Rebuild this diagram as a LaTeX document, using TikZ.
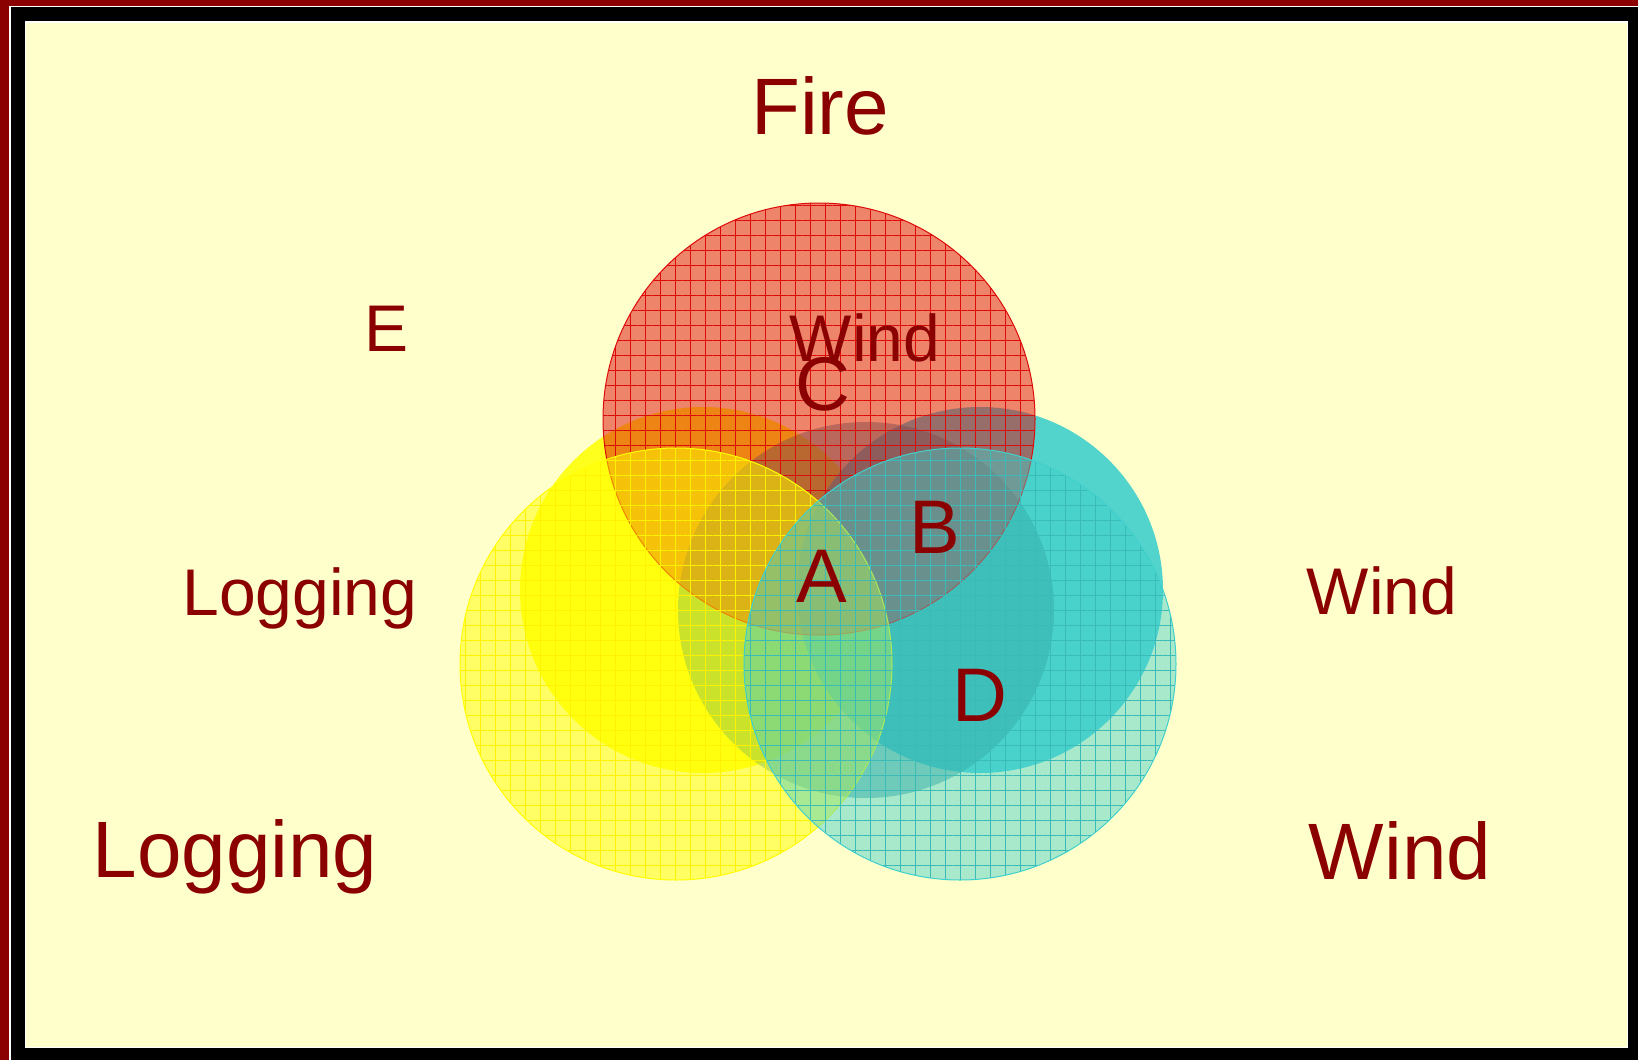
\documentclass[tikz,border=0pt]{standalone}
\usepackage{fontspec}
\setmainfont{Liberation Sans}
\usepackage{tikz}
\usetikzlibrary{patterns.meta}
\definecolor{framered}{RGB}{139,0,0}
\definecolor{paper}{RGB}{255,255,204}
\definecolor{labelred}{RGB}{139,0,0}
\definecolor{firered}{RGB}{222,10,10}
\definecolor{logyellow}{RGB}{255,255,0}
\definecolor{windcyan}{RGB}{64,208,204}

\begin{document}
\begin{tikzpicture}[x=0.5pt, y=-0.5pt,
  gridded/.style={pattern={Hatch[angle=0, distance=7.5pt, line width=0.35pt]}, pattern color=#1},
  bigtext/.style={font=\fontsize{40}{48}\selectfont, text=labelred, anchor=base, inner sep=0pt},
  midtext/.style={font=\fontsize{33}{40}\selectfont, text=labelred, anchor=base, inner sep=0pt},
  lettertext/.style={font=\fontsize{38}{46}\selectfont, text=labelred, anchor=base, inner sep=0pt}]
  \useasboundingbox (0,0) rectangle (1638,1060);
  % Frame
  \fill[framered] (0,0) rectangle (1638,1060);
  \fill[white] (9,6) rectangle (1638,1060);
  \fill[black] (11,7) rectangle (1638,1060);
  \fill[white] (25,21) rectangle (1628,1048);
  \fill[paper] (26,23) rectangle (1627,1047);
  % Inner solid circles
  \fill[logyellow, fill opacity=0.85] (703,590) circle[radius=183];
  \fill[windcyan, fill opacity=0.9] (980,590) circle[radius=183];
  \fill[windcyan!70!black, fill opacity=0.5] (866,610) circle[radius=188];
  % Fire circle
  \fill[firered, fill opacity=0.5] (819,419) circle[radius=216];
  \fill[gridded=firered, fill opacity=0.8] (819,419) circle[radius=216];
  \draw[firered, line width=0.5pt] (819,419) circle[radius=216];
  % Logging circle
  \fill[logyellow, fill opacity=0.5] (676,664) circle[radius=216];
  \fill[gridded=logyellow!90!orange, fill opacity=0.8] (676,664) circle[radius=216];
  \draw[logyellow, line width=0.5pt] (676,664) circle[radius=216];
  % Wind circle
  \fill[windcyan, fill opacity=0.45] (960,664) circle[radius=216];
  \fill[gridded=windcyan!90!black, fill opacity=0.8] (960,664) circle[radius=216];
  \draw[windcyan, line width=0.5pt] (960,664) circle[radius=216];
  % Labels
  \node[bigtext] (fire) at (820,134) {Fire};
  \node[midtext] (regione) at (387,351) {E};
  \node[midtext] (windtop) at (865,361) {Wind};
  \node[lettertext] (regionc) at (823,410) {C};
  \node[lettertext] (regionb) at (935,553) {B};
  \node[lettertext] (regiona) at (822,602) {A};
  \node[lettertext] (regiond) at (980,721) {D};
  \node[midtext] (logmid) at (300,615) {Logging};
  \node[midtext] (windmid) at (1382,614) {Wind};
  \node[bigtext] (logbig) at (235,877) {Logging};
  \node[bigtext] (windbig) at (1400,879) {Wind};
\end{tikzpicture}
\end{document}
